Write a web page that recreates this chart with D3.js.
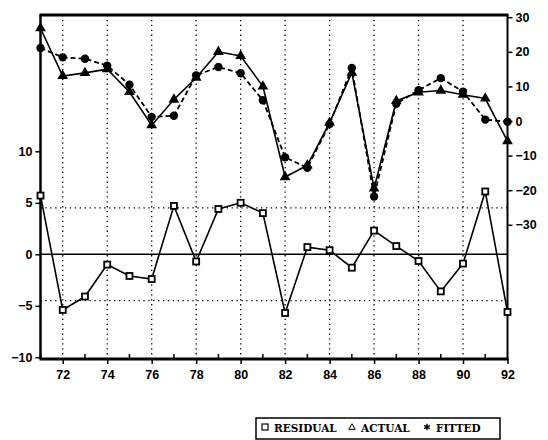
<!DOCTYPE html>
<html><head><meta charset="utf-8">
<script src="https://cdn.jsdelivr.net/npm/d3@7"></script>
<style>body{margin:0;background:#fff}svg{display:block}</style>
</head><body>
<script>
const years = [71,72,73,74,75,76,77,78,79,80,81,82,83,84,85,86,87,88,89,90,91,92];
const actual = [26.8,13.0,13.9,15.0,8.4,-1.2,6.2,12.5,20.0,18.8,10.0,-16.2,-12.8,-0.5,14.0,-19.5,5.8,8.3,8.8,7.6,6.5,-5.8];
const fitted = [21.1,18.4,18.0,16.0,10.5,1.2,1.5,13.2,15.6,13.8,6.0,-10.5,-13.5,-0.9,15.3,-21.8,5.0,8.9,12.4,8.5,0.4,-0.2];
const residual = [5.7,-5.4,-4.1,-1.0,-2.1,-2.4,4.7,-0.7,4.4,5.0,4.0,-5.7,0.7,0.4,-1.3,2.3,0.8,-0.65,-3.6,-0.9,6.1,-5.6];
const leftTicks = [-10,-5,0,5,10];
const rightTicks = [-30,-20,-10,0,10,20,30];
const xTicks = [72,74,76,78,80,82,84,86,88,90,92];
const seBand = 4.5;
const legendItems = ["RESIDUAL","ACTUAL","FITTED"];

const W=548,H=440;
const L=40.5,R=507.5,T=15,B=359;
const svg=d3.select("body").append("svg").attr("width",W).attr("height",H);
const x=d3.scaleLinear().domain([71,92]).range([L,R]);
const yL=d3.scaleLinear().domain([-10,10]).range([357.3,151.3]);
const yR=d3.scaleLinear().domain([-30,30]).range([224.8,17.2]);
const font="'Liberation Sans', Arial, sans-serif";

// vertical gridlines
svg.append("g").selectAll("line").data(xTicks.filter(d=>d<92)).join("line")
  .attr("x1",d=>x(d)).attr("x2",d=>x(d)).attr("y1",T).attr("y2",B)
  .attr("stroke","#000").attr("stroke-width",1.3).attr("stroke-dasharray","1.3,3.6");
// SE lines
svg.append("g").selectAll("line").data([seBand,-seBand]).join("line")
  .attr("x1",L).attr("x2",R).attr("y1",d=>yL(d)).attr("y2",d=>yL(d))
  .attr("stroke","#000").attr("stroke-width",1.3).attr("stroke-dasharray","1.3,3.6");
// zero line
svg.append("line").attr("x1",L).attr("x2",R).attr("y1",yL(0)).attr("y2",yL(0))
  .attr("stroke","#000").attr("stroke-width",1.6);

// frame
svg.append("line").attr("x1",L-1).attr("x2",R+1).attr("y1",T).attr("y2",T).attr("stroke","#000").attr("stroke-width",3);
svg.append("line").attr("x1",L-1).attr("x2",R+1).attr("y1",B).attr("y2",B).attr("stroke","#000").attr("stroke-width",3);
svg.append("line").attr("x1",L).attr("x2",L).attr("y1",T).attr("y2",B).attr("stroke","#000").attr("stroke-width",2.5);
svg.append("line").attr("x1",R).attr("x2",R).attr("y1",T).attr("y2",B).attr("stroke","#000").attr("stroke-width",2);

// left axis
const la=svg.append("g").attr("transform",`translate(${L},0)`)
  .call(d3.axisLeft(yL).tickValues(leftTicks).tickSize(5).tickPadding(3).tickFormat(d=>d<0?"\u2212"+Math.abs(d):d));
la.select(".domain").remove();
la.selectAll("line").attr("stroke-width",1.5);
la.selectAll("text").attr("font-family",font).attr("font-weight","bold").attr("font-size",12.5);
// right axis
const ra=svg.append("g").attr("transform",`translate(${R},0)`)
  .call(d3.axisRight(yR).tickValues(rightTicks).tickSize(5).tickPadding(3).tickFormat(d=>d<0?"\u2212"+Math.abs(d):d));
ra.select(".domain").remove();
ra.selectAll("line").attr("stroke-width",1.5);
ra.selectAll("text").attr("font-family",font).attr("font-weight","bold").attr("font-size",12.5);
// bottom axis
const ba=svg.append("g").attr("transform",`translate(0,${B})`)
  .call(d3.axisBottom(x).tickValues(xTicks).tickSize(5).tickPadding(6).tickFormat(d=>d));
ba.select(".domain").remove();
ba.selectAll("line").attr("stroke-width",1.5);
ba.selectAll("text").attr("font-family",font).attr("font-weight","bold").attr("font-size",12.5);
// minor ticks (inside)
svg.append("g").selectAll("line").data(years.filter(d=>d%2===1)).join("line")
  .attr("x1",d=>x(d)).attr("x2",d=>x(d)).attr("y1",B-5).attr("y2",B)
  .attr("stroke","#000").attr("stroke-width",1.5);

// lines
const lineR=d3.line().x((d,i)=>x(years[i])).y(d=>yR(d));
const lineL=d3.line().x((d,i)=>x(years[i])).y(d=>yL(d));
svg.append("path").attr("d",lineR(fitted)).attr("fill","none").attr("stroke","#000").attr("stroke-width",1.8).attr("stroke-dasharray","5,3");
svg.append("path").attr("d",lineR(actual)).attr("fill","none").attr("stroke","#000").attr("stroke-width",1.6);
svg.append("path").attr("d",lineL(residual)).attr("fill","none").attr("stroke","#000").attr("stroke-width",1.6);

// markers
svg.append("g").selectAll("circle").data(fitted).join("circle")
  .attr("cx",(d,i)=>x(years[i])).attr("cy",d=>yR(d)).attr("r",4.2).attr("fill","#000");
svg.append("g").selectAll("path").data(actual).join("path")
  .attr("d",d3.symbol(d3.symbolTriangle,50)).attr("transform",(d,i)=>`translate(${x(years[i])},${yR(d)})`).attr("fill","#000");
svg.append("g").selectAll("rect").data(residual).join("rect")
  .attr("x",(d,i)=>x(years[i])-3).attr("y",d=>yL(d)-3).attr("width",6).attr("height",6)
  .attr("fill","#fff").attr("stroke","#000").attr("stroke-width",1.8);

// legend
const lg=svg.append("g");
lg.append("rect").attr("x",256).attr("y",418).attr("width",244).attr("height",21).attr("fill","none").attr("stroke","#000").attr("stroke-width",1.5);
const lfont="'DejaVu Serif', serif";
const lx=[262,349,424];
lg.append("rect").attr("x",lx[0]).attr("y",424).attr("width",6).attr("height",6).attr("fill","#fff").attr("stroke","#000").attr("stroke-width",1.2);
lg.append("path").attr("d",d3.symbol(d3.symbolTriangle,18)).attr("transform",`translate(${lx[1]+3},427.5)`).attr("fill","none").attr("stroke","#000").attr("stroke-width",1);
lg.append("path").attr("d",d3.symbol(d3.symbolAsterisk,30)).attr("transform",`translate(${lx[2]+3},427)`).attr("fill","#000").attr("stroke","#000").attr("stroke-width",1.4);
lg.selectAll("text").data(legendItems).join("text")
  .attr("x",(d,i)=>lx[i]+12).attr("y",432).text(d=>d)
  .attr("font-family",lfont).attr("font-weight","bold").attr("font-size",10.5);
</script>
</body></html>
